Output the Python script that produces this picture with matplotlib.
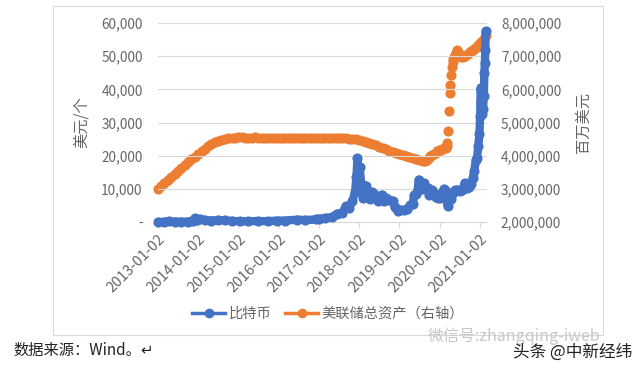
import matplotlib.pyplot as plt
import matplotlib.ticker as mticker
from matplotlib.lines import Line2D
from matplotlib.patches import Rectangle
import pandas as pd

plt.rcParams['font.family'] = ['Noto Sans CJK SC', 'DejaVu Sans']

# Bitcoin price, USD per coin
btc_dates = [
    "2013-01-02", "2013-03-01", "2013-04-10", "2013-06-01", "2013-08-01", "2013-10-01",
    "2013-11-15", "2013-12-04", "2013-12-20", "2014-01-15", "2014-03-01", "2014-05-01",
    "2014-07-01", "2014-09-01", "2014-11-01", "2015-01-15", "2015-04-01", "2015-07-01",
    "2015-10-01", "2015-12-15", "2016-03-01", "2016-06-15", "2016-09-01", "2016-12-01",
    "2017-01-05", "2017-03-01", "2017-05-01", "2017-06-15", "2017-08-01", "2017-09-01",
    "2017-10-01", "2017-11-01", "2017-11-25", "2017-12-07", "2017-12-17", "2017-12-24",
    "2018-01-06", "2018-01-20", "2018-02-06", "2018-02-20", "2018-03-05", "2018-03-20",
    "2018-04-05", "2018-04-25", "2018-05-15", "2018-06-01", "2018-06-25", "2018-07-25",
    "2018-08-15", "2018-09-05", "2018-10-01", "2018-11-01", "2018-11-20", "2018-12-15",
    "2019-01-10", "2019-02-15", "2019-03-15", "2019-04-05", "2019-05-01", "2019-05-15",
    "2019-06-01", "2019-06-15", "2019-06-26", "2019-07-10", "2019-07-25", "2019-08-10",
    "2019-08-25", "2019-09-15", "2019-09-26", "2019-10-15", "2019-10-27", "2019-11-10",
    "2019-11-25", "2019-12-15", "2020-01-05", "2020-01-20", "2020-02-10", "2020-02-25",
    "2020-03-08", "2020-03-13", "2020-03-25", "2020-04-15", "2020-05-01", "2020-05-20",
    "2020-06-10", "2020-07-01", "2020-07-25", "2020-08-15", "2020-09-05", "2020-09-25",
    "2020-10-15", "2020-10-28", "2020-11-10", "2020-11-25", "2020-12-05", "2020-12-17",
    "2020-12-27", "2021-01-03", "2021-01-08", "2021-01-15", "2021-01-22", "2021-01-29",
    "2021-02-05", "2021-02-10", "2021-02-15", "2021-02-19", "2021-02-21",
]
btc_price = [
    13, 35, 200, 110, 100, 130,
    450, 1100, 650, 850, 600, 450,
    620, 480, 340, 220, 245, 285,
    245, 430, 420, 700, 600, 760,
    1000, 1200, 1500, 2500, 2800, 4700,
    4300, 6400, 9000, 13500, 19200, 14000,
    16500, 11500, 7200, 11000, 10800, 8500,
    6900, 9000, 8400, 7500, 6200, 8200,
    6300, 7200, 6600, 6300, 4500, 3300,
    3700, 3600, 4000, 5000, 5400, 8000,
    8500, 9500, 12800, 11500, 9800, 11800,
    10200, 10300, 8200, 8300, 9500, 8800,
    7400, 7100, 7300, 8700, 10000, 9300,
    8000, 4900, 6700, 7000, 8800, 9500,
    9700, 9200, 9700, 11800, 10400, 10700,
    11400, 13200, 15300, 18700, 19300, 23000,
    26500, 32000, 40500, 36500, 32500, 34000,
    38000, 45000, 48000, 52000, 57500,
]

# Fed total assets, million USD (right axis)
fed_dates = [
    "2013-01-02", "2013-02-01", "2013-03-01", "2013-04-01", "2013-05-01", "2013-06-01",
    "2013-07-01", "2013-08-01", "2013-09-01", "2013-10-01", "2013-11-01", "2013-12-01",
    "2014-01-01", "2014-02-01", "2014-03-01", "2014-04-01", "2014-05-01", "2014-06-01",
    "2014-07-01", "2014-08-01", "2014-09-01", "2014-10-01", "2014-11-01", "2014-12-01",
    "2015-01-01", "2015-02-01", "2015-03-01", "2015-04-01", "2015-05-01", "2015-06-01",
    "2015-07-01", "2015-08-01", "2015-09-01", "2015-10-01", "2015-11-01", "2015-12-01",
    "2016-01-01", "2016-02-01", "2016-03-01", "2016-04-01", "2016-05-01", "2016-06-01",
    "2016-07-01", "2016-08-01", "2016-09-01", "2016-10-01", "2016-11-01", "2016-12-01",
    "2017-01-01", "2017-02-01", "2017-03-01", "2017-04-01", "2017-05-01", "2017-06-01",
    "2017-07-01", "2017-08-01", "2017-09-01", "2017-10-01", "2017-11-01", "2017-12-01",
    "2018-01-01", "2018-02-01", "2018-03-01", "2018-04-01", "2018-05-01", "2018-06-01",
    "2018-07-01", "2018-08-01", "2018-09-01", "2018-10-01", "2018-11-01", "2018-12-01",
    "2019-01-01", "2019-02-01", "2019-03-01", "2019-04-01", "2019-05-01", "2019-06-01",
    "2019-07-01", "2019-08-01", "2019-08-20", "2019-09-10", "2019-09-25", "2019-10-10",
    "2019-10-25", "2019-11-10", "2019-11-25", "2019-12-10", "2019-12-25", "2020-01-10",
    "2020-01-25", "2020-02-10", "2020-02-25",
    "2020-03-04", "2020-03-11", "2020-03-18", "2020-03-25", "2020-04-01", "2020-04-08",
    "2020-04-15", "2020-04-22", "2020-04-29", "2020-05-06", "2020-05-13", "2020-05-20",
    "2020-05-27", "2020-06-03", "2020-06-10", "2020-06-17", "2020-06-24", "2020-07-01",
    "2020-07-15", "2020-08-01", "2020-08-15", "2020-09-01", "2020-09-15", "2020-10-01",
    "2020-10-15", "2020-11-01", "2020-11-15", "2020-12-01", "2020-12-15", "2021-01-01",
    "2021-01-15", "2021-02-01", "2021-02-15", "2021-02-24",
]
fed_assets = [
    3.00, 3.08, 3.17, 3.26, 3.35, 3.44,
    3.53, 3.62, 3.71, 3.80, 3.89, 3.97,
    4.05, 4.13, 4.21, 4.28, 4.35, 4.40,
    4.44, 4.47, 4.50, 4.52, 4.53, 4.54,
    4.55, 4.55, 4.54, 4.54, 4.54, 4.55,
    4.54, 4.53, 4.54, 4.54, 4.53, 4.54,
    4.54, 4.53, 4.53, 4.54, 4.53, 4.53,
    4.53, 4.52, 4.53, 4.53, 4.52, 4.52,
    4.52, 4.52, 4.52, 4.52, 4.52, 4.52,
    4.52, 4.52, 4.52, 4.51, 4.50, 4.49,
    4.47, 4.44, 4.41, 4.38, 4.35, 4.31,
    4.27, 4.23, 4.19, 4.15, 4.11, 4.07,
    4.04, 4.01, 3.98, 3.96, 3.93, 3.90,
    3.87, 3.85, 3.84, 3.86, 3.93, 3.98,
    4.03, 4.06, 4.09, 4.13, 4.17, 4.18,
    4.20, 4.22, 4.24,
    4.30, 4.39, 4.74, 5.34, 5.88, 6.13,
    6.43, 6.68, 6.83, 6.90, 6.98, 7.05,
    7.10, 7.17, 7.20, 7.14, 7.08, 7.02,
    6.98, 6.97, 7.00, 7.05, 7.08, 7.12,
    7.16, 7.20, 7.25, 7.28, 7.34, 7.40,
    7.44, 7.50, 7.58, 7.64,
]

x_ticks = ["2013-01-02", "2014-01-02", "2015-01-02", "2016-01-02", "2017-01-02",
           "2018-01-02", "2019-01-02", "2020-01-02", "2021-01-02"]

BLUE = "#4472C4"
ORANGE = "#ED7D31"
GREY = "#666666"

fig = plt.figure(figsize=(6.4, 3.69), dpi=100)
fig.patch.set_facecolor("white")

# outer chart frame
fig.patches.append(Rectangle((53 / 640, 1 - 335 / 369), 550 / 640, 329 / 369,
                             transform=fig.transFigure, fill=False,
                             edgecolor="#d9d9d9", linewidth=0.8))

ax = fig.add_axes([158 / 640, 1 - 222 / 369, 329 / 640, 199 / 369])
ax2 = ax.twinx()

bd = pd.to_datetime(btc_dates)
fd = pd.to_datetime(fed_dates)

ax2.plot(fd, [v * 1e6 for v in fed_assets], linestyle="none", marker="o",
         markersize=6.3, color=ORANGE, clip_on=False, zorder=2)
ax.plot(bd, btc_price, color=BLUE, linewidth=6, marker="o", markersize=6.3,
        solid_joinstyle="round", solid_capstyle="round", clip_on=False, zorder=3)
ax.set_zorder(ax2.get_zorder() + 1)
ax.patch.set_visible(False)

ax.set_xlim(pd.Timestamp("2013-01-02"), pd.Timestamp("2021-03-06"))
ax.set_ylim(0, 60000)
ax2.set_ylim(2e6, 8e6)
ax.set_yticks(range(0, 60001, 10000))
ax2.set_yticks(range(2000000, 8000001, 1000000))
ax.yaxis.set_major_formatter(mticker.FuncFormatter(lambda v, p: "-" if v == 0 else f"{int(v):,}"))
ax2.yaxis.set_major_formatter(mticker.FuncFormatter(lambda v, p: f"{int(v):,}"))

ax.set_xticks(pd.to_datetime(x_ticks))
ax.set_xticklabels(x_ticks, rotation=45, ha="right", rotation_mode="anchor",
                   fontsize=10.5, color=GREY)

ax.grid(axis="y", color="#d9d9d9", linewidth=0.8)
for a in (ax, ax2):
    for s in a.spines.values():
        s.set_visible(False)
    a.tick_params(axis="y", length=0, labelsize=9.8, labelcolor=GREY)
ax.tick_params(axis="y", pad=11)
ax2.tick_params(axis="y", pad=10)
ax.spines["bottom"].set_visible(True)
ax.spines["bottom"].set_color("#d9d9d9")
ax.tick_params(axis="x", length=4, color="#d9d9d9", pad=3)

ax.set_ylabel("美元/个", fontsize=11, color=GREY, labelpad=8)
ax2.set_ylabel("百万美元", fontsize=11, color=GREY, labelpad=10)

handles = [
    Line2D([], [], color=BLUE, linewidth=2.5, marker="o", markersize=6),
    Line2D([], [], color=ORANGE, linewidth=2.5, marker="o", markersize=6),
]
fig.legend(handles, ["比特币", "美联储总资产（右轴）"], loc="center",
           bbox_to_anchor=(328 / 640, 1 - 314 / 369), ncol=2, frameon=False,
           fontsize=10.3, labelcolor=GREY, handlelength=2.3, handletextpad=0.2,
           columnspacing=1.0)

fig.text(13 / 640, 1 - 350 / 369, "数据来源：Wind。↵", fontsize=11,
         color="#222222", va="center", ha="left")
fig.text(428 / 640, 1 - 336 / 369, "微信号:zhangqing-iweb", fontsize=11.5,
         color="#c8c8c8", va="center", ha="left")
fig.text(513 / 640, 1 - 352 / 369, "头条 @中新经纬", fontsize=12,
         color="#222222", va="center", ha="left")

fig.savefig("out.png", dpi=100)
